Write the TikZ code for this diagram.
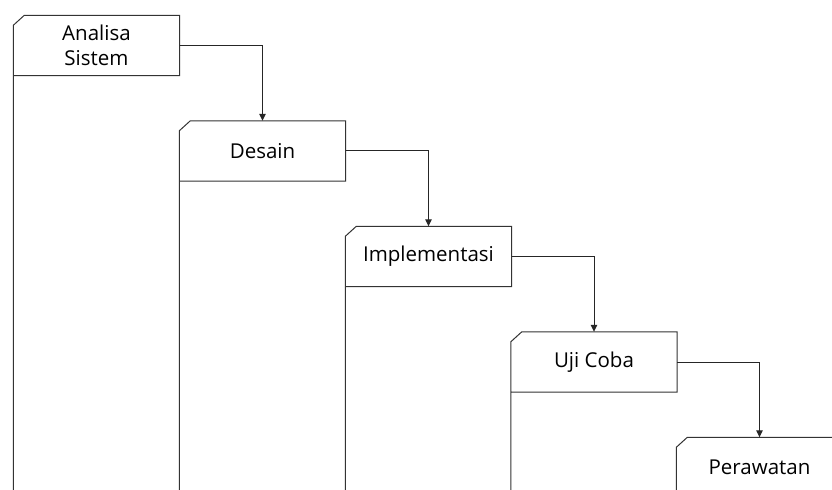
\documentclass[tikz,border=0pt]{standalone}
\usepackage{fontspec}
\setmainfont{Open Sans}
\usetikzlibrary{arrows.meta}
\tikzset{
  stage/.style={minimum width=166bp, minimum height=60bp, inner sep=0pt, align=center,
    font=\fontsize{20.5bp}{25bp}\selectfont, text=black},
  frame/.style={line width=1bp, draw=black!80},
  arr/.style={line width=1bp, draw=black!85, -{Triangle[width=6.5bp,length=7bp]}}
}
\begin{document}
\begin{tikzpicture}[x=1bp,y=-1bp]
\useasboundingbox (0,0) rectangle (832,490);
\clip (0,0) rectangle (832,490);
\node[stage] (s1) at (96.5,45.5) {Analisa\\Sistem};
\node[stage] (s2) at (262.5,151) {Desain};
\node[stage] (s3) at (428.5,256.5) {Implementasi};
\node[stage] (s4) at (594,362) {Uji Coba};
\node[stage] (s5) at (759.5,467.5) {Perawatan};
\coordinate (bottom) at (0,520);
\foreach \n in {s1,s2,s3,s4,s5}{
  \draw[frame] (bottom -| \n.west) -- ([yshift=-10bp]\n.north west) -- ([xshift=11bp]\n.north west)
     -- (\n.north east) -- (\n.south east) -- (\n.south west);
}
\draw[arr] (s1.east) -| (s2.north);
\draw[arr] (s2.east) -| (s3.north);
\draw[arr] (s3.east) -| (s4.north);
\draw[arr] (s4.east) -| (s5.north);
\end{tikzpicture}
\end{document}
